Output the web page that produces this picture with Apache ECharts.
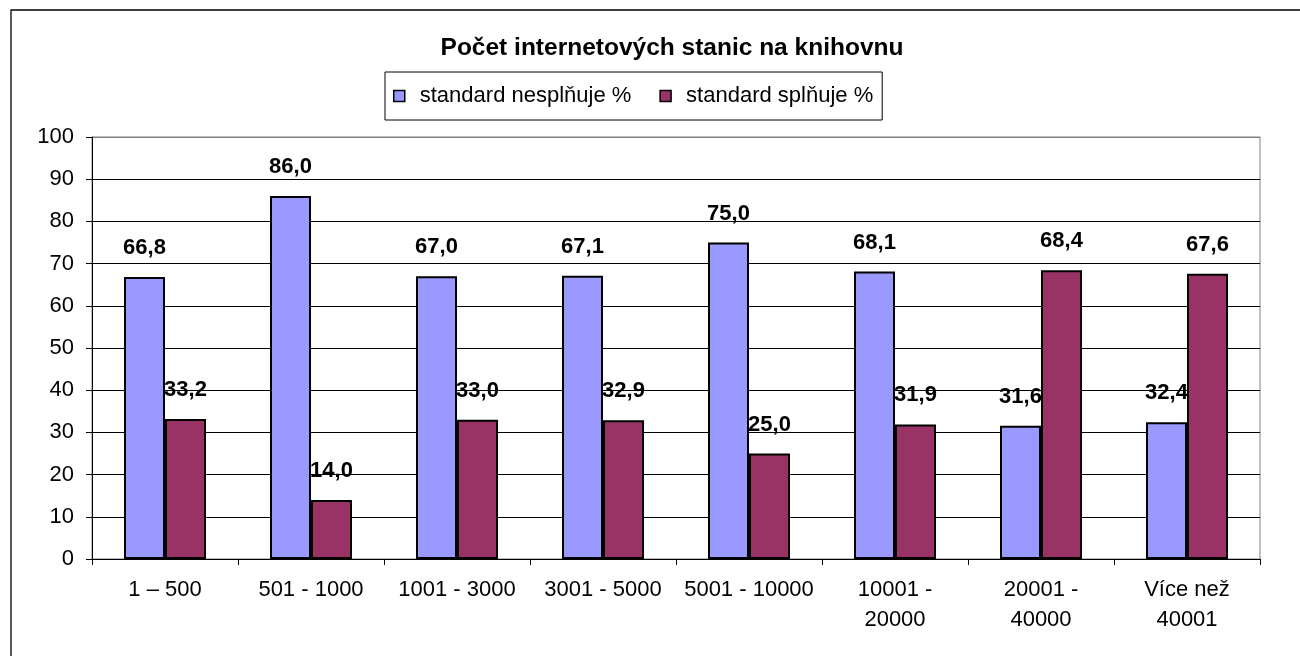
<!DOCTYPE html>
<html>
<head>
<meta charset="utf-8">
<script src="https://cdn.jsdelivr.net/npm/echarts@6/dist/echarts.min.js"></script>
<style>
html,body{margin:0;padding:0;background:#fff;}
#chart{width:1300px;height:656px;}
</style>
</head>
<body>
<div id="chart"></div>
<script>
const chartTitle = 'Počet internetových stanic na knihovnu';
const categories = ['1 – 500', '501 - 1000', '1001 - 3000', '3001 - 5000', '5001 - 10000', '10001 -\n20000', '20001 -\n40000', 'Více než\n40001'];
const seriesNames = ['standard nesplňuje %', 'standard splňuje %'];
const notMet = [66.8, 86.0, 67.0, 67.1, 75.0, 68.1, 31.6, 32.4];
const met = [33.2, 14.0, 33.0, 32.9, 25.0, 31.9, 68.4, 67.6];
const yTicks = [0, 10, 20, 30, 40, 50, 60, 70, 80, 90, 100];

const FONT = '"Liberation Sans", Arial, sans-serif';
const fmt = p => p.value.toFixed(1).replace('.', ',');
const splitColors = yTicks.map((t, i) => i === yTicks.length - 1 ? '#808080' : '#000');

const chart = echarts.init(document.getElementById('chart'), null, {renderer: 'canvas'});
chart.setOption({
  animation: false,
  backgroundColor: '#fff',
  textStyle: {fontFamily: FONT},
  graphic: [{
    type: 'rect', z: -10,
    shape: {x: 11, y: 10, width: 1400, height: 800},
    style: {fill: 'none', stroke: '#000', lineWidth: 1.3}
  }],
  title: {
    text: chartTitle,
    left: 667, top: 31, textAlign: 'center',
    textStyle: {fontFamily: FONT, fontSize: 24.5, fontWeight: 'bold', color: '#000'}
  },
  legend: {
    data: seriesNames,
    left: 385, top: 72,
    orient: 'horizontal',
    icon: 'rect',
    itemWidth: 11, itemHeight: 11, itemGap: 28,
    padding: [12, 9, 12, 8],
    borderColor: '#000', borderWidth: 1,
    backgroundColor: '#fff',
    textStyle: {fontFamily: FONT, fontSize: 22, color: '#000', padding: [0, 0, 0, 10], lineHeight: 24},
    itemStyle: {borderColor: '#000', borderWidth: 1.5}
  },
  grid: {left: 92, top: 137, width: 1168, height: 422, show: true, borderColor: '#808080', borderWidth: 1, backgroundColor: 'transparent'},
  xAxis: {
    type: 'category', data: categories,
    axisLine: {lineStyle: {color: '#000', width: 1}},
    axisTick: {show: true, length: 6, lineStyle: {color: '#000'}},
    axisLabel: {fontFamily: FONT, fontSize: 22, color: '#000', margin: 16, lineHeight: 30, interval: 0}
  },
  yAxis: {
    type: 'value', min: 0, max: 100, interval: 10,
    axisLine: {show: true, lineStyle: {color: '#000', width: 1}},
    axisTick: {show: true, length: 6, lineStyle: {color: '#000'}},
    axisLabel: {fontFamily: FONT, fontSize: 22, color: '#000', margin: 18},
    splitLine: {show: true, lineStyle: {color: splitColors, width: 1}}
  },
  series: [{
    name: seriesNames[0], type: 'bar', data: notMet,
    barWidth: 41, barGap: '0%',
    itemStyle: {color: '#9999FF', borderColor: '#000', borderWidth: 2},
    label: {show: true, position: 'top', distance: 18, formatter: fmt, fontFamily: FONT, fontSize: 22, fontWeight: 'bold', color: '#000'}
  }, {
    name: seriesNames[1], type: 'bar', data: met,
    barWidth: 41, barGap: '0%',
    itemStyle: {color: '#993366', borderColor: '#000', borderWidth: 2},
    label: {show: true, position: 'top', distance: 18, formatter: fmt, fontFamily: FONT, fontSize: 22, fontWeight: 'bold', color: '#000'}
  }]
});
</script>
</body>
</html>
